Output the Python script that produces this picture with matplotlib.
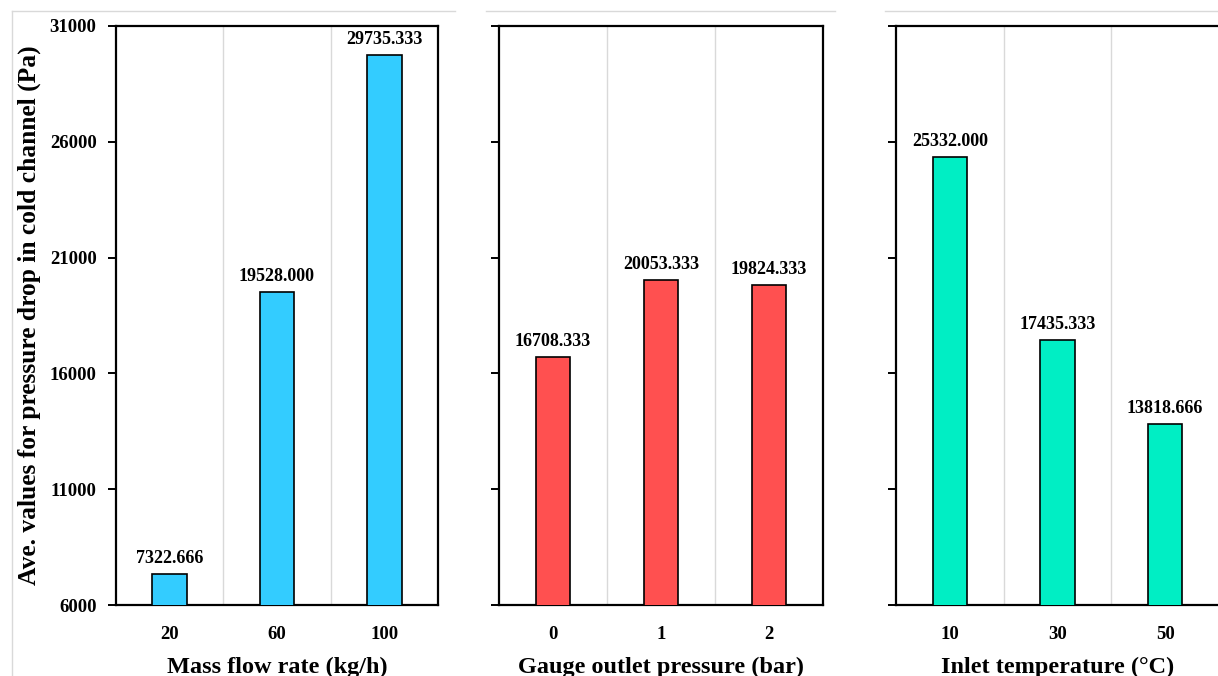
import matplotlib
matplotlib.use("Agg")
import matplotlib.pyplot as plt
from matplotlib.lines import Line2D

plt.rcParams['font.family'] = ['Liberation Serif', 'DejaVu Serif']
plt.rcParams['font.weight'] = 'bold'

# Data
mass_flow_labels = ["20", "60", "100"]
mass_flow_values = [7322.666, 19528.000, 29735.333]

outlet_pressure_labels = ["0", "1", "2"]
outlet_pressure_values = [16708.333, 20053.333, 19824.333]

inlet_temp_labels = ["10", "30", "50"]
inlet_temp_values = [25332.000, 17435.333, 13818.666]

x_titles = ["Mass flow rate (kg/h)", "Gauge outlet pressure (bar)", "Inlet temperature (°C)"]
y_title = "Ave. values for pressure drop in cold channel (Pa)"
y_ticks = [6000, 11000, 16000, 21000, 26000, 31000]

colors = ["#33CCFF", "#FF5050", "#00EEC4"]

W, H = 1218, 676
fig = plt.figure(figsize=(W / 100, H / 100), dpi=100)

# Axes rectangles in pixels: (left, top, right, bottom)
rects = [(116, 26, 438, 605), (499, 26, 823, 605), (896, 26, 1219, 605)]

panels = [
    (mass_flow_labels, mass_flow_values),
    (outlet_pressure_labels, outlet_pressure_values),
    (inlet_temp_labels, inlet_temp_values),
]

# Light chart-area outlines
for x0, x1 in [(12, 455), (486, 835), (885, 1218)]:
    fig.add_artist(Line2D([x0 / W, x1 / W], [1 - 10.5 / H, 1 - 10.5 / H],
                          transform=fig.transFigure, color="#D9D9D9", lw=1.0))
fig.add_artist(Line2D([12 / W, 12 / W], [1 - 10.5 / H, 0],
                      transform=fig.transFigure, color="#D9D9D9", lw=1.0))

for i, ((labels, values), (l, t, r, b)) in enumerate(zip(panels, rects)):
    ax = fig.add_axes([l / W, 1 - b / H, (r - l) / W, (b - t) / H])
    x = list(range(len(labels)))
    ax.bar(x, values, width=0.32, color=colors[i], edgecolor="black",
           linewidth=1.2, zorder=3)
    ax.set_xlim(-0.5, len(labels) - 0.5)
    ax.set_ylim(6000, 31000)
    ax.set_yticks(y_ticks)
    ax.set_xticks(x)
    ax.set_xticklabels(labels, fontsize=13.5, fontweight="bold")
    for xb in [0.5, 1.5]:
        ax.axvline(xb, color="#D9D9D9", lw=1.0, zorder=1)
    for s in ax.spines.values():
        s.set_linewidth(1.6)
        s.set_color("black")
    if i == 2:
        ax.spines["right"].set_visible(False)
    ax.tick_params(axis="y", direction="out", length=6, width=1.4,
                   labelsize=13.5, pad=8)
    ax.tick_params(axis="x", length=0, pad=15)
    if i == 0:
        ax.set_yticklabels([str(v) for v in y_ticks], fontweight="bold")
        ax.set_ylabel(y_title, fontsize=18.4, fontweight="bold", labelpad=6)
    else:
        ax.tick_params(axis="y", labelleft=False)
    ax.set_xlabel(x_titles[i], fontsize=17.5, fontweight="bold", labelpad=10)
    for xi, v in zip(x, values):
        ax.annotate(f"{v:.3f}", (xi, v), xytext=(0, 5), textcoords="offset points",
                    ha="center", va="bottom", fontsize=13, fontweight="bold",
                    zorder=4)

fig.savefig("out.png", dpi=100)
